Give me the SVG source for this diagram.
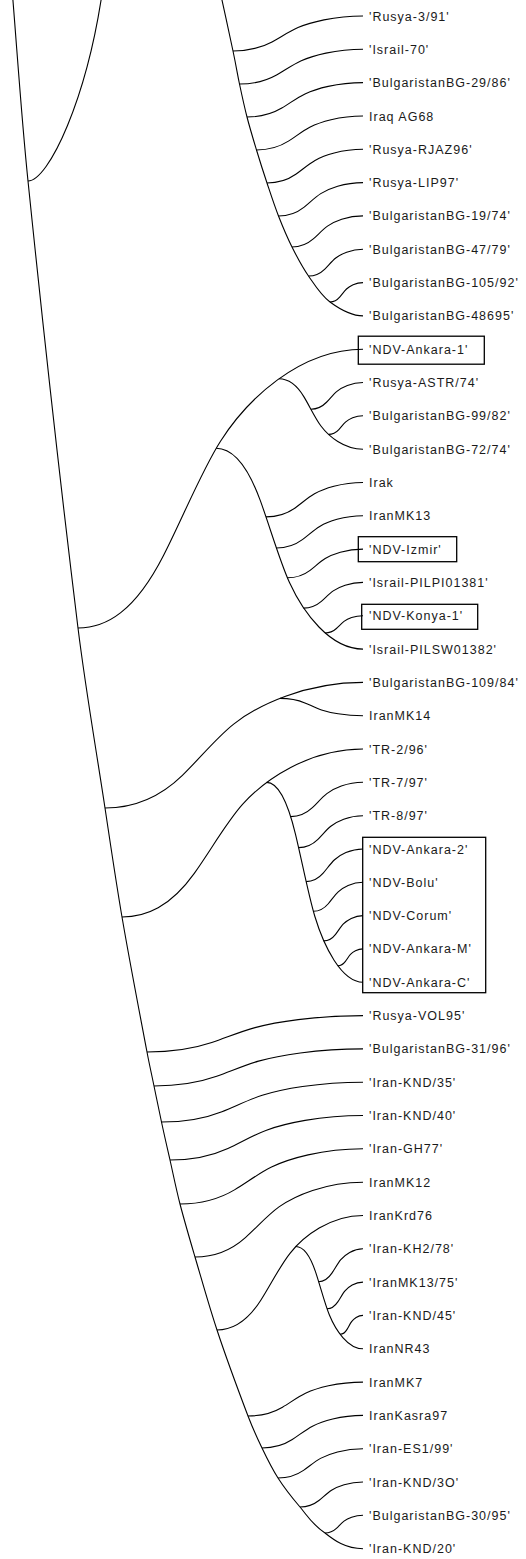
<svg xmlns="http://www.w3.org/2000/svg" width="526" height="1559" viewBox="0 0 526 1559">
<style>
.t{font-family:"Liberation Sans",Arial,sans-serif;font-size:12.5px;letter-spacing:1px;fill:#1a1a1a}
.b{fill:none;stroke:#000;stroke-width:1.1}
.bx{fill:none;stroke:#000;stroke-width:1.3}
</style>
<defs>
<path id="sw" d="M0,0 C0.1,0 0.2,0.06 0.3,0.26 C0.3667,0.3933 0.4333,0.5633 0.5,0.67 C0.5667,0.7767 0.6333,0.84 0.7,0.89 C0.8,0.965 0.9,1 1,1" fill="none" stroke="#000" stroke-width="1.1" vector-effect="non-scaling-stroke"/>
</defs>
<rect width="526" height="1559" fill="#fff"/>
<g id="connectors">
<path class="b" d="M11.7,-15 C17.1,50.3 21.3,115.7 28,181 C43.3,330 59.7,479 78,628 C85.4,688 95.9,748 105,808 C110.5,844.3 115.8,880.7 122,917 C129.7,962 138.5,1007 147,1052 C149.1,1063.3 151.7,1074.7 154,1086 C156.5,1098 158.9,1110 161.5,1122 C164.2,1134.7 167.1,1147.3 170,1160 C173.3,1174.7 176.2,1189.3 180,1204 C184.6,1221.7 189.8,1239.3 195,1257 C202.2,1281.3 208.9,1305.7 217,1330 C226.5,1358.7 237.1,1387.3 248,1416 C252.1,1426.7 256.8,1437.3 262,1448 C266.8,1458 271.6,1468 278,1478 C284.2,1487.7 291.7,1497.3 300,1507 C307.4,1515.7 311.9,1524.3 325,1533 C334,1540 345,1548.7 363,1548.7"/>
<path class="b" d="M28,181 C48,181 88,100 104,-20"/>
<path class="b" d="M217.6,-20 C220.2,-8.2 229.35,33.67 233,51 C236.65,68.33 237.17,73 239.5,84 C241.83,95 244.17,106 247,117 C249.83,128 253.17,139 256.5,150 C259.83,161 263.33,172 267,183 C270.67,194 274.33,205.33 278.5,216 C282.67,226.67 287,237 292,247 C297,257 302.17,266.83 308.5,276 C314.83,285.17 320.92,295.33 330,302 C339.08,308.67 350,315.9 363,315.9"/>
<use href="#sw" transform="translate(233 51) scale(130 -35)"/>
<use href="#sw" transform="translate(239.5 84) scale(123.5 -34.7)"/>
<use href="#sw" transform="translate(247 117) scale(116 -34.4)"/>
<use href="#sw" transform="translate(256.5 150) scale(106.5 -34)"/>
<use href="#sw" transform="translate(267 183) scale(96 -33.7)"/>
<use href="#sw" transform="translate(278.5 216) scale(84.5 -33.4)"/>
<use href="#sw" transform="translate(292 247) scale(71 -31.1)"/>
<use href="#sw" transform="translate(308.5 276) scale(54.5 -26.8)"/>
<use href="#sw" transform="translate(330 302) scale(33 -19.4)"/>
<use href="#sw" transform="translate(78 628) scale(285 -278.8)"/>
<use href="#sw" transform="translate(278.9 378.8) scale(84.1 70.4)"/>
<use href="#sw" transform="translate(310.9 409.2) scale(52.1 -26.7)"/>
<use href="#sw" transform="translate(328.5 434.4) scale(34.5 -18.6)"/>
<use href="#sw" transform="translate(216.2 448.2) scale(146.8 200.9)"/>
<use href="#sw" transform="translate(266 516.9) scale(97 -34.4)"/>
<use href="#sw" transform="translate(276.4 548) scale(86.6 -32.2)"/>
<use href="#sw" transform="translate(287.4 577.8) scale(75.6 -28.7)"/>
<use href="#sw" transform="translate(303.5 608.1) scale(59.5 -25.7)"/>
<use href="#sw" transform="translate(325 633) scale(38 -17.3)"/>
<use href="#sw" transform="translate(105 808) scale(258 -125.6)"/>
<use href="#sw" transform="translate(280 698.4) scale(83 17.3)"/>
<use href="#sw" transform="translate(122 917) scale(241 -168)"/>
<use href="#sw" transform="translate(266.6 782.4) scale(96.4 199.8)"/>
<use href="#sw" transform="translate(290.7 816.6) scale(72.3 -34.3)"/>
<use href="#sw" transform="translate(298.6 847.6) scale(64.4 -31.9)"/>
<use href="#sw" transform="translate(306.1 881.6) scale(56.9 -32.6)"/>
<use href="#sw" transform="translate(313.4 911.3) scale(49.6 -29)"/>
<use href="#sw" transform="translate(323.8 940.9) scale(39.2 -25.3)"/>
<use href="#sw" transform="translate(337.9 965.7) scale(25.1 -16.8)"/>
<use href="#sw" transform="translate(147 1052) scale(216 -36.4)"/>
<use href="#sw" transform="translate(154 1086) scale(209 -37.1)"/>
<use href="#sw" transform="translate(161.5 1122) scale(201.5 -39.8)"/>
<use href="#sw" transform="translate(170 1160) scale(193 -44.5)"/>
<use href="#sw" transform="translate(180 1204) scale(183 -55.2)"/>
<use href="#sw" transform="translate(195 1257) scale(168 -74.8)"/>
<use href="#sw" transform="translate(217 1330) scale(146 -114.5)"/>
<use href="#sw" transform="translate(295.8 1246.5) scale(67.2 102.3)"/>
<use href="#sw" transform="translate(318.6 1281.7) scale(44.4 -32.9)"/>
<use href="#sw" transform="translate(327 1308.8) scale(36 -26.7)"/>
<use href="#sw" transform="translate(340.2 1334.3) scale(22.8 -18.9)"/>
<use href="#sw" transform="translate(248 1416) scale(115 -33.9)"/>
<use href="#sw" transform="translate(262 1448) scale(101 -32.6)"/>
<use href="#sw" transform="translate(278 1478) scale(85 -29.3)"/>
<use href="#sw" transform="translate(300 1507) scale(63 -25)"/>
<use href="#sw" transform="translate(325 1533) scale(38 -17.7)"/>
</g>
<g id="ndv-ankara-cluster"><rect class="bx" x="362.7" y="837.3" width="123" height="155.4"/></g>
<g id="n1"><text class="t" x="369" y="20.5">'Rusya-3/91'</text></g>
<g id="n2"><text class="t" x="369" y="53.8">'Israil-70'</text></g>
<g id="n3"><text class="t" x="369" y="87.1">'BulgaristanBG-29/86'</text></g>
<g id="n4"><text class="t" x="369" y="120.5">Iraq AG68</text></g>
<g id="n5"><text class="t" x="369" y="153.8">'Rusya-RJAZ96'</text></g>
<g id="n6"><text class="t" x="369" y="187.1">'Rusya-LIP97'</text></g>
<g id="n7"><text class="t" x="369" y="220.4">'BulgaristanBG-19/74'</text></g>
<g id="n8"><text class="t" x="369" y="253.7">'BulgaristanBG-47/79'</text></g>
<g id="n9"><text class="t" x="369" y="287.1">'BulgaristanBG-105/92'</text></g>
<g id="n10"><text class="t" x="369" y="320.4">'BulgaristanBG-48695'</text></g>
<g id="n11"><rect class="bx" x="358.3" y="336.2" width="126" height="28"/><text class="t" x="369" y="353.7">'NDV-Ankara-1'</text></g>
<g id="n12"><text class="t" x="369" y="387">'Rusya-ASTR/74'</text></g>
<g id="n13"><text class="t" x="369" y="420.3">'BulgaristanBG-99/82'</text></g>
<g id="n14"><text class="t" x="369" y="453.7">'BulgaristanBG-72/74'</text></g>
<g id="n15"><text class="t" x="369" y="487">Irak</text></g>
<g id="n16"><text class="t" x="369" y="520.3">IranMK13</text></g>
<g id="n17"><rect class="bx" x="358.3" y="536.7" width="98.4" height="25"/><text class="t" x="369" y="553.6">'NDV-Izmir'</text></g>
<g id="n18"><text class="t" x="369" y="586.9">'Israil-PILPI01381'</text></g>
<g id="n19"><rect class="bx" x="361.7" y="604.3" width="116" height="25"/><text class="t" x="369" y="620.2">'NDV-Konya-1'</text></g>
<g id="n20"><text class="t" x="369" y="653.6">'Israil-PILSW01382'</text></g>
<g id="n21"><text class="t" x="369" y="686.9">'BulgaristanBG-109/84'</text></g>
<g id="n22"><text class="t" x="369" y="720.2">IranMK14</text></g>
<g id="n23"><text class="t" x="369" y="753.5">'TR-2/96'</text></g>
<g id="n24"><text class="t" x="369" y="786.8">'TR-7/97'</text></g>
<g id="n25"><text class="t" x="369" y="820.2">'TR-8/97'</text></g>
<g id="n26"><text class="t" x="369" y="853.5">'NDV-Ankara-2'</text></g>
<g id="n27"><text class="t" x="369" y="886.8">'NDV-Bolu'</text></g>
<g id="n28"><text class="t" x="369" y="920.1">'NDV-Corum'</text></g>
<g id="n29"><text class="t" x="369" y="953.4">'NDV-Ankara-M'</text></g>
<g id="n30"><text class="t" x="369" y="986.7">'NDV-Ankara-C'</text></g>
<g id="n31"><text class="t" x="369" y="1020.1">'Rusya-VOL95'</text></g>
<g id="n32"><text class="t" x="369" y="1053.4">'BulgaristanBG-31/96'</text></g>
<g id="n33"><text class="t" x="369" y="1086.7">'Iran-KND/35'</text></g>
<g id="n34"><text class="t" x="369" y="1120">'Iran-KND/40'</text></g>
<g id="n35"><text class="t" x="369" y="1153.3">'Iran-GH77'</text></g>
<g id="n36"><text class="t" x="369" y="1186.7">IranMK12</text></g>
<g id="n37"><text class="t" x="369" y="1220">IranKrd76</text></g>
<g id="n38"><text class="t" x="369" y="1253.3">'Iran-KH2/78'</text></g>
<g id="n39"><text class="t" x="369" y="1286.6">'IranMK13/75'</text></g>
<g id="n40"><text class="t" x="369" y="1319.9">'Iran-KND/45'</text></g>
<g id="n41"><text class="t" x="369" y="1353.3">IranNR43</text></g>
<g id="n42"><text class="t" x="369" y="1386.6">IranMK7</text></g>
<g id="n43"><text class="t" x="369" y="1419.9">IranKasra97</text></g>
<g id="n44"><text class="t" x="369" y="1453.2">'Iran-ES1/99'</text></g>
<g id="n45"><text class="t" x="369" y="1486.5">'Iran-KND/3O'</text></g>
<g id="n46"><text class="t" x="369" y="1519.8">'BulgaristanBG-30/95'</text></g>
<g id="n47"><text class="t" x="369" y="1553.2">'Iran-KND/20'</text></g>
</svg>
